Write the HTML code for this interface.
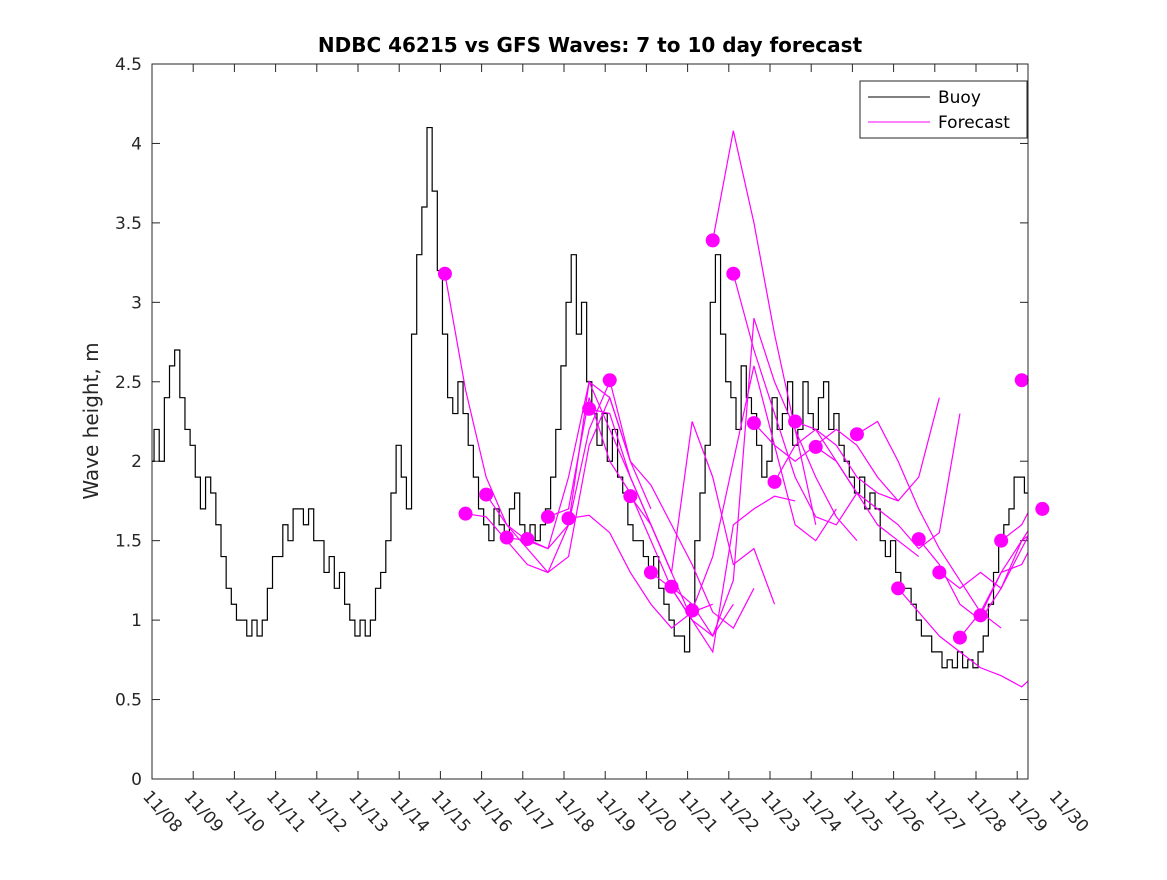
<!DOCTYPE html>
<html><head><meta charset="utf-8"><style>
body{margin:0;background:#fff;width:1167px;height:875px;overflow:hidden}
svg text{font-family:"DejaVu Sans","Liberation Sans",sans-serif}
</style></head><body>
<svg id="chart" width="1167" height="875" xmlns="http://www.w3.org/2000/svg">
<rect width="1167" height="875" fill="#fff"/>
<text x="590" y="52" text-anchor="middle" font-size="20" font-weight="bold">NDBC 46215 vs GFS Waves: 7 to 10 day forecast</text>
<text transform="translate(98,421) rotate(-90)" text-anchor="middle" font-size="20" fill="#262626">Wave height, m</text>
<defs><clipPath id="plotclip"><rect x="152" y="64" width="876" height="715"/></clipPath></defs>
<g id="grid"></g>
<g id="buoy" clip-path="url(#plotclip)"></g>
<g id="fc" clip-path="url(#plotclip)"></g>
<g id="dots"></g>
<rect x="152" y="64" width="876" height="715" fill="none" stroke="#262626" stroke-width="1"/>
<g>
<rect x="860" y="81" width="167" height="57" fill="#fff" stroke="#262626"/>
<line x1="868" y1="97" x2="930" y2="97" stroke="#000"/>
<text x="938" y="103" font-size="17">Buoy</text>
<line x1="868" y1="122" x2="930" y2="122" stroke="#f0f"/>
<text x="938" y="128" font-size="17">Forecast</text>
</g>
</svg>
<script>
const buoyStartDay = -0.2;
const buoyStep = 0.125;
const buoyValues = [2.1,2.0,2.2,2.0,2.4,2.6,2.7,2.4,2.2,2.1,1.9,1.7,1.9,1.8,1.6,1.4,1.2,1.1,1.0,1.0,0.9,1.0,0.9,1.0,1.2,1.4,1.4,1.6,1.5,1.7,1.7,1.6,1.7,1.5,1.5,1.3,1.4,1.2,1.3,1.1,1.0,0.9,1.0,0.9,1.0,1.2,1.3,1.5,1.8,2.1,1.9,1.7,2.8,3.3,3.6,4.1,3.7,3.2,2.8,2.4,2.3,2.5,2.3,2.1,1.9,1.7,1.6,1.5,1.7,1.6,1.5,1.7,1.8,1.6,1.5,1.6,1.5,1.6,1.7,1.9,2.2,2.6,3.0,3.3,2.8,3.0,2.5,2.3,2.1,2.3,2.0,2.2,1.9,1.8,1.6,1.5,1.5,1.4,1.3,1.4,1.2,1.1,1.0,0.9,0.9,0.8,1.1,1.5,1.8,2.1,3.0,3.3,2.8,2.5,2.4,2.2,2.6,2.4,2.3,2.1,1.9,2.0,2.4,2.2,2.3,2.5,2.1,2.2,2.5,2.3,2.2,2.4,2.5,2.2,2.3,2.1,2.0,1.9,1.8,1.9,1.7,1.8,1.7,1.5,1.4,1.5,1.3,1.2,1.2,1.1,1.0,0.9,0.9,0.8,0.8,0.7,0.75,0.7,0.8,0.7,0.75,0.7,0.8,0.9,1.1,1.3,1.5,1.6,1.7,1.9,1.9,1.8,1.9,2.0];
const dotStartDay = 7.11;
const dotStep = 0.5;
const forecasts = [
[3.18,2.45,1.9,1.6,1.5],
[1.67,1.65,1.5,1.35,1.3,1.6,2.2,2.5],
[1.79,1.6,1.45,1.3,1.4,2.1,2.4,2.0],
[1.52,1.5,1.45,1.9,2.5,2.4,2.0,1.7],
[1.51,1.45,1.6,2.5,2.2,1.9,1.6,1.3],
[1.65,1.7,2.4,2.0,1.8,1.5,1.2,1.0],
[1.64,1.66,1.55,1.3,1.1,0.95,1.05,1.1],
[2.33,2.3,1.9,1.6,1.3,1.0,0.9,1.1],
[2.51,2.0,1.85,1.6,1.35,1.05,0.95,1.2],
[1.78,1.6,1.3,2.25,1.9,1.35,1.45,1.1],
[1.30,1.2,1.0,0.8,1.6,1.7,1.78,1.75],
[1.21,1.1,0.9,1.25,2.9,2.5,2.2,1.6],
[1.06,1.4,2.0,2.6,2.1,1.6,1.5,1.7],
[3.39,4.08,3.5,2.8,2.2,1.9,1.65,1.5],
[3.18,2.7,2.3,1.9,1.65,1.6,1.8],
[2.24,2.1,2.0,2.1,2.2,2.1,1.9,1.75],
[1.87,2.1,2.2,2.0,1.8,1.6,1.5,1.4],
[2.25,2.2,2.1,1.9,1.8,1.75,1.9,2.4],
[2.09,2.0,1.8,1.7,1.6,1.45,1.55,2.3],
null,
[2.17,2.25,2.0,1.7,1.45,1.25,1.05,0.95],
null,
[1.20,1.05,0.9,0.8,0.7,0.65,0.58,0.7],
[1.51,1.35,1.1,1.0,1.2,1.5,1.7,2.6],
[1.30,1.2,1.3,1.2,1.45,1.7,2.5],
[0.89,1.05,1.3,1.5,1.6,2.8],
[1.03,1.3,1.35,1.6,2.3],
[1.50,1.6,1.85,2.5,2.25],
[2.51,2.6,2.2],
[1.70,2.0]
];
const xTickLabels = ["11/08","11/09","11/10","11/11","11/12","11/13","11/14","11/15","11/16","11/17","11/18","11/19","11/20","11/21","11/22","11/23","11/24","11/25","11/26","11/27","11/28","11/29","11/30"];
const yTicks = [0,0.5,1,1.5,2,2.5,3,3.5,4,4.5];
const yTickLabels = ["0","0.5","1","1.5","2","2.5","3","3.5","4","4.5"];

const NS="http://www.w3.org/2000/svg";
const X0=152,X1=1028,Y0=779,Y1=64,PXDAY=41.2,YMAX=4.5;
function xs(d){return X0+d*PXDAY;}
function ys(v){return Y0-(v/YMAX)*(Y0-Y1);}
function mk(tag,attrs,parent){const e=document.createElementNS(NS,tag);for(const k in attrs)e.setAttribute(k,attrs[k]);parent.appendChild(e);return e;}
const grid=document.getElementById('grid');
yTicks.forEach((v,i)=>{
  const y=ys(v);
  const t=mk('line',{x1:X0,y1:y,x2:X0+8,y2:y,stroke:'#262626'},grid);
  
  
  const t2=mk('line',{x1:X1,y1:y,x2:X1-8,y2:y,stroke:'#262626'},grid);
  
  
  const l=mk('text',{x:X0-10,y:y+6,'text-anchor':'end','font-size':'17',fill:'#262626'},grid);
  l.textContent=yTickLabels[i];
  
  
});
xTickLabels.forEach((s,i)=>{
  const x=xs(i);
  if(x<=X1+0.5){
    const t=mk('line',{x1:x,y1:Y0,x2:x,y2:Y0-8,stroke:'#262626'},grid);
    
    
    const t2=mk('line',{x1:x,y1:Y1,x2:x,y2:Y1+8,stroke:'#262626'},grid);
    
    
  }
  const l=mk('text',{transform:`translate(${x-10},${Y0+18}) rotate(48)`,'font-size':'17',fill:'#262626'},grid);
  l.textContent=s;
  
  
});
let d='';
buoyValues.forEach((v,i)=>{
  const x=xs(buoyStartDay+i*buoyStep),y=ys(v);
  if(i===0)d+=`M${x},${y}`;else d+=`H${x}V${y}`;
});
d+=`H${xs(buoyStartDay+buoyValues.length*buoyStep)}`;
const bp=mk('path',{d:d,fill:'none',stroke:'#000','stroke-width':'1.2'},document.getElementById('buoy'));


const fg=document.getElementById('fc'),dg=document.getElementById('dots');
forecasts.forEach((arr,i)=>{
  if(!arr)return;
  const t0=dotStartDay+i*dotStep;
  const pts=arr.map((v,j)=>`${xs(t0+j*dotStep)},${ys(v)}`).join(' ');
  const pl=mk('polyline',{points:pts,fill:'none',stroke:'#f0f','stroke-width':'1.2'},fg);
  
  
  const c=mk('circle',{cx:xs(t0),cy:ys(arr[0]),r:7,fill:'#f0f'},dg);
  
  
});
</script>
</body></html>
